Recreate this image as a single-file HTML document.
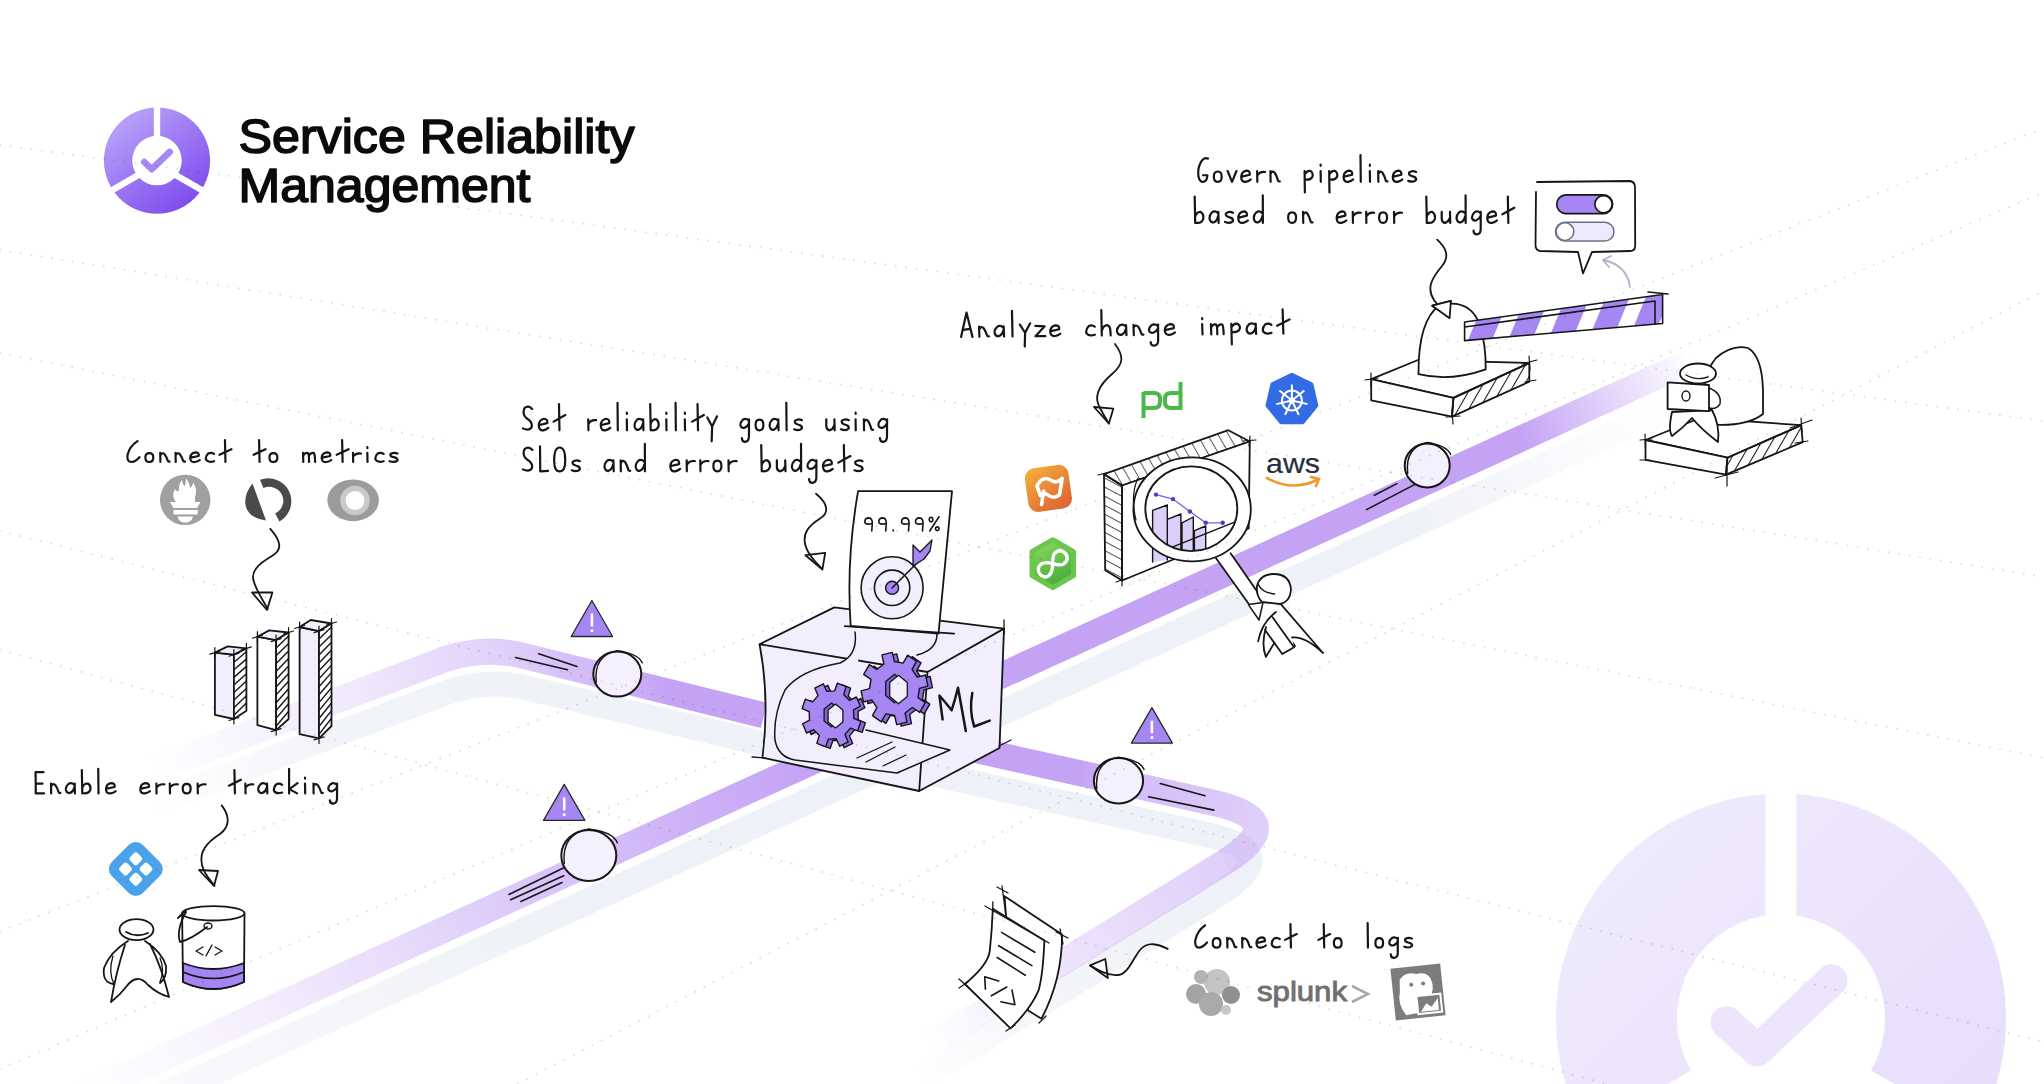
<!DOCTYPE html>
<html><head><meta charset="utf-8"><style>
html,body{margin:0;padding:0;background:#fff;width:2044px;height:1084px;overflow:hidden}
svg{display:block}
</style></head><body>
<svg width="2044" height="1084" viewBox="0 0 2044 1084">
<defs>
<linearGradient id="logoG" x1="0.15" y1="0.05" x2="0.85" y2="0.95">
  <stop offset="0" stop-color="#bba6f8"/><stop offset="1" stop-color="#7c47ee"/>
</linearGradient>
<linearGradient id="bigG" x1="0" y1="0" x2="1" y2="1">
  <stop offset="0" stop-color="#f1ecfd"/><stop offset="1" stop-color="#e5dbfa"/>
</linearGradient>
<linearGradient id="mainG" gradientUnits="userSpaceOnUse" x1="80" y1="1095" x2="1700" y2="357">
  <stop offset="0" stop-color="#c4a3f5" stop-opacity="0"/>
  <stop offset="0.08" stop-color="#c4a3f5" stop-opacity="0.12"/>
  <stop offset="0.2" stop-color="#c4a3f5" stop-opacity="0.4"/>
  <stop offset="0.32" stop-color="#c4a3f5" stop-opacity="0.72"/>
  <stop offset="0.45" stop-color="#c4a3f5" stop-opacity="1"/>
  <stop offset="0.89" stop-color="#c4a3f5" stop-opacity="1"/>
  <stop offset="0.945" stop-color="#c4a3f5" stop-opacity="0.45"/>
  <stop offset="0.995" stop-color="#c4a3f5" stop-opacity="0"/>
</linearGradient>
<linearGradient id="mainSG" gradientUnits="userSpaceOnUse" x1="80" y1="1095" x2="1700" y2="357">
  <stop offset="0" stop-color="#eef1f7" stop-opacity="0.3"/>
  <stop offset="0.3" stop-color="#eef1f7" stop-opacity="1"/>
  <stop offset="0.8" stop-color="#eef1f7" stop-opacity="1"/>
  <stop offset="0.97" stop-color="#eef1f7" stop-opacity="0"/>
</linearGradient>
<linearGradient id="up1G" gradientUnits="userSpaceOnUse" x1="150" y1="771" x2="764" y2="700">
  <stop offset="0" stop-color="#c4a3f5" stop-opacity="0"/>
  <stop offset="0.35" stop-color="#c4a3f5" stop-opacity="0.25"/>
  <stop offset="0.62" stop-color="#c4a3f5" stop-opacity="0.55"/>
  <stop offset="0.85" stop-color="#c4a3f5" stop-opacity="1"/>
  <stop offset="1" stop-color="#c4a3f5" stop-opacity="1"/>
</linearGradient>
<linearGradient id="up1SG" gradientUnits="userSpaceOnUse" x1="150" y1="771" x2="764" y2="700">
  <stop offset="0" stop-color="#eef1f7" stop-opacity="0"/>
  <stop offset="0.3" stop-color="#eef1f7" stop-opacity="0.8"/>
  <stop offset="1" stop-color="#eef1f7" stop-opacity="1"/>
</linearGradient>
<linearGradient id="up2AG" gradientUnits="userSpaceOnUse" x1="1080" y1="770" x2="1270" y2="815">
  <stop offset="0" stop-color="#c4a3f5" stop-opacity="1"/>
  <stop offset="0.3" stop-color="#c4a3f5" stop-opacity="0.72"/>
  <stop offset="1" stop-color="#c4a3f5" stop-opacity="0.52"/>
</linearGradient>
<linearGradient id="up2BG" gradientUnits="userSpaceOnUse" x1="1224.4" y1="862.4" x2="930" y2="1044">
  <stop offset="0" stop-color="#c4a3f5" stop-opacity="0.52"/>
  <stop offset="0.55" stop-color="#c4a3f5" stop-opacity="0.3"/>
  <stop offset="0.85" stop-color="#c4a3f5" stop-opacity="0.1"/>
  <stop offset="1" stop-color="#c4a3f5" stop-opacity="0"/>
</linearGradient>
<linearGradient id="up2SG" gradientUnits="userSpaceOnUse" x1="1218" y1="894" x2="924" y2="1076">
  <stop offset="0" stop-color="#eef1f7" stop-opacity="1"/>
  <stop offset="0.5" stop-color="#eef1f7" stop-opacity="0.7"/>
  <stop offset="1" stop-color="#eef1f7" stop-opacity="0"/>
</linearGradient>
<linearGradient id="flagG" x1="0" y1="0" x2="0.6" y2="1">
  <stop offset="0" stop-color="#f4b23a"/><stop offset="1" stop-color="#e06a35"/>
</linearGradient>
<linearGradient id="infG" x1="0" y1="0" x2="0.4" y2="1">
  <stop offset="0" stop-color="#8ddd5f"/><stop offset="1" stop-color="#4bad3e"/>
</linearGradient>
<pattern id="hatchS" patternUnits="userSpaceOnUse" width="9" height="9" patternTransform="rotate(30)">
  <line x1="0" y1="0" x2="0" y2="9" stroke="#161616" stroke-width="2.1"/>
</pattern>
<pattern id="hatchL" patternUnits="userSpaceOnUse" width="8" height="8" patternTransform="rotate(-62)">
  <line x1="0" y1="0" x2="0" y2="8" stroke="#161616" stroke-width="1.5"/>
</pattern>
<pattern id="hatch" patternUnits="userSpaceOnUse" width="9" height="9" patternTransform="rotate(-30)">
  <line x1="0" y1="0" x2="0" y2="9" stroke="#161616" stroke-width="1.4"/>
</pattern>
</defs>
<rect width="2044" height="1084" fill="#fff"/>
<mask id="mBig"><rect x="0" y="0" width="2044" height="1084" fill="white"/><circle cx="1781" cy="1018.5" r="104" fill="black"/><line x1="1781" y1="1036.4" x2="1781.0" y2="743.9" stroke="black" stroke-width="31"/><line x1="1781" y1="1036.4" x2="2034.3" y2="1182.6" stroke="black" stroke-width="31"/><line x1="1781" y1="1036.4" x2="1527.7" y2="1182.6" stroke="black" stroke-width="31"/></mask><circle cx="1781" cy="1018.5" r="225" fill="url(#bigG)" mask="url(#mBig)"/><polyline points="1726.5,1022.3 1757.3,1050.3 1831.6,980.3" fill="none" stroke="#ece5fc" stroke-width="32" stroke-linecap="round" stroke-linejoin="round"/>
<path d="M 80 1133 L 1707 391" stroke="url(#mainSG)" stroke-width="26" fill="none"/>
<path d="M 157 802 L 437 696 Q 484 677 527 688 L 760 743" stroke="url(#up1SG)" stroke-width="25" fill="none" stroke-linecap="round"/>
<g transform="translate(-6,32)"><path d="M 930 739.9 L 1214.4 803 Q 1292.5 820.4 1224.4 862.4" stroke="#eef1f7" stroke-width="25" fill="none"/><path d="M 1224.4 862.4 L 930 1044" stroke="url(#up2SG)" stroke-width="25" fill="none"/></g>
<path d="M 75 1098 L 1700 357" stroke="url(#mainG)" stroke-width="26" fill="none"/>
<path d="M 150 771 L 430 665 Q 477 644 524 656 L 764 715.5" stroke="url(#up1G)" stroke-width="26" fill="none"/>
<path d="M 950 744.3 L 1214.4 803 Q 1292.5 820.4 1224.4 862.4" stroke="url(#up2AG)" stroke-width="26" fill="none"/><path d="M 1224.4 862.4 L 930 1044" stroke="url(#up2BG)" stroke-width="26" fill="none"/>
<mask id="mSmall"><rect x="0" y="0" width="2044" height="1084" fill="white"/><circle cx="157" cy="160.6" r="24.75" fill="black"/><line x1="157" y1="164.3" x2="157.0" y2="95.3" stroke="black" stroke-width="6.4"/><line x1="157" y1="164.3" x2="216.8" y2="198.8" stroke="black" stroke-width="6.4"/><line x1="157" y1="164.3" x2="97.2" y2="198.8" stroke="black" stroke-width="6.4"/></mask><circle cx="157" cy="160.6" r="53.1" fill="url(#logoG)" mask="url(#mSmall)"/><polyline points="144.3,162 151.7,169.2 169.7,152" fill="none" stroke="#a687f4" stroke-width="6.6" stroke-linecap="round" stroke-linejoin="round"/>
<text x="238.5" y="153" font-family="Liberation Sans" font-size="47.5" fill="#0b0b0b" stroke="#0b0b0b" stroke-width="1.6" stroke-linejoin="round" textLength="396" lengthAdjust="spacingAndGlyphs">Service Reliability</text>
<text x="238.5" y="202" font-family="Liberation Sans" font-size="47.5" fill="#0b0b0b" stroke="#0b0b0b" stroke-width="1.6" stroke-linejoin="round" textLength="292" lengthAdjust="spacingAndGlyphs">Management</text>
<g fill="none" stroke="#161616" stroke-width="2.2" stroke-linecap="round" stroke-linejoin="round"><path vector-effect="non-scaling-stroke" d="M 11 -22.7692 Q 3 -17.1923 1 -7.875 Q 0 0 5 0 Q 9 -0.4375 13 -5.25 M 23 -9.625 Q 19 -9.625 19 -4.8125 Q 19 0 23 0 Q 27 0 27 -4.8125 Q 27 -9.625 23 -9.625 M 34 -10.0625 L 34.2 0 M 34.2 -7.4375 Q 36 -11.0577 38.5 -8.3125 Q 40.5 -5.25 41.5 -1.75 Q 42 0 43.5 -0.4375 M 49.5 -10.0625 L 49.7 0 M 49.7 -7.4375 Q 51.5 -11.0577 54 -8.3125 Q 56 -5.25 57 -1.75 Q 57.5 0 59 -0.4375 M 65 -4.8125 L 73 -6.5625 Q 73.5 -10.5 69.5 -10.5 Q 64.5 -9.625 64.3 -4.375 Q 64.5 0.5 69 0 Q 72 -0.4375 74 -2.1875 M 88.5 -8.75 Q 85.5 -11.0577 82.5 -9.1875 Q 79.5 -6.125 80.3 -2.625 Q 82.5 1 88.5 -0.875 M 99.5 -23.8846 L 100 0 M 94 -7.875 L 106 -13.8462 M 134 -23.8846 L 134.5 0 M 128.5 -7.875 L 140.5 -13.8462 M 148.5 -9.625 Q 144.5 -9.625 144.5 -4.8125 Q 144.5 0 148.5 0 Q 152.5 0 152.5 -4.8125 Q 152.5 -9.625 148.5 -9.625 M 178.5 -10.0625 L 178.7 0 M 178.7 -7 Q 180.5 -10.5 183.5 -9.625 Q 184.5 -7.875 184.5 -4.375 L 184.5 0 M 184.5 -7 Q 186.5 -10.5 189.5 -9.625 Q 190.5 -7.875 190.5 -4.375 L 190.7 0 M 198 -4.8125 L 206 -6.5625 Q 206.5 -10.5 202.5 -10.5 Q 197.5 -9.625 197.3 -4.375 Q 197.5 0.5 202 0 Q 205 -0.4375 207 -2.1875 M 218 -23.8846 L 218.5 0 M 212.5 -7.875 L 224.5 -13.8462 M 229 -10.0625 L 229.2 0 M 229.2 -6.125 Q 232 -10.0625 237 -9.1875 M 243.5 -10.0625 L 243.7 0 M 243.5 -16.0769 L 243.6 -14.9615 M 260 -8.75 Q 257 -11.0577 254 -9.1875 Q 251 -6.125 251.8 -2.625 Q 254 1 260 -0.875 M 274 -9.1875 Q 270.5 -11.0577 267 -8.75 Q 266 -6.125 270 -5.25 Q 274.5 -4.375 274 -1.75 Q 271.5 1 266 -0.875" transform="translate(126.6,462.0) scale(0.9886,0.9200)"/><path vector-effect="non-scaling-stroke" d="M 9 -21.6538 L 1 -21.6538 L 1.2 0 L 9.5 0 M 1 -10.0625 L 8 -10.0625 M 16.5 -10.0625 L 16.7 0 M 16.7 -7.4375 Q 18.5 -11.0577 21 -8.3125 Q 23 -5.25 24 -1.75 Q 24.5 0 26 -0.4375 M 40 -8.75 Q 37 -11.6154 34 -9.625 Q 31 -7 31.5 -3.5 Q 32.5 0 35.5 -0.4375 Q 39 -1.75 40 -6.125 M 40.3 -10.0625 L 40.6 0 M 47.5 -23.8846 L 48 0 M 47.8 -5.25 Q 49.5 -10.5 53.5 -10.0625 Q 57 -7.875 56 -3.5 Q 54.5 0 50.5 0 Q 48.5 0 48 -0.875 M 64 -25 L 64.3 0 M 72.5 -4.8125 L 80.5 -6.5625 Q 81 -10.5 77 -10.5 Q 72 -9.625 71.8 -4.375 Q 72 0.5 76.5 0 Q 79.5 -0.4375 81.5 -2.1875 M 107 -4.8125 L 115 -6.5625 Q 115.5 -10.5 111.5 -10.5 Q 106.5 -9.625 106.3 -4.375 Q 106.5 0.5 111 0 Q 114 -0.4375 116 -2.1875 M 122.5 -10.0625 L 122.7 0 M 122.7 -6.125 Q 125.5 -10.0625 130.5 -9.1875 M 136 -10.0625 L 136.2 0 M 136.2 -6.125 Q 139 -10.0625 144 -9.1875 M 153 -9.625 Q 149 -9.625 149 -4.8125 Q 149 0 153 0 Q 157 0 157 -4.8125 Q 157 -9.625 153 -9.625 M 164 -10.0625 L 164.2 0 M 164.2 -6.125 Q 167 -10.0625 172 -9.1875 M 201 -23.8846 L 201.5 0 M 195.5 -7.875 L 207.5 -13.8462 M 212 -10.0625 L 212.2 0 M 212.2 -6.125 Q 215 -10.0625 220 -9.1875 M 233.5 -8.75 Q 230.5 -11.6154 227.5 -9.625 Q 224.5 -7 225 -3.5 Q 226 0 229 -0.4375 Q 232.5 -1.75 233.5 -6.125 M 233.8 -10.0625 L 234.1 0 M 249 -8.75 Q 246 -11.0577 243 -9.1875 Q 240 -6.125 240.8 -2.625 Q 243 1 249 -0.875 M 256 -25 L 256 0 M 264.5 -10.5 L 256.3 -4.375 L 264 0 M 272 -10.0625 L 272.2 0 M 272 -16.0769 L 272.1 -14.9615 M 280.5 -10.0625 L 280.7 0 M 280.7 -7.4375 Q 282.5 -11.0577 285 -8.3125 Q 287 -5.25 288 -1.75 Q 288.5 0 290 -0.4375 M 304 -8.75 Q 301 -11.6154 298 -9.625 Q 295 -7 295.5 -4.375 Q 296.5 -1.75 299.5 -2.1875 Q 303 -3.5 304 -6.125 M 304.3 -10.0625 L 304.2 6 Q 304 10 300.5 10.5 Q 297 10.5 297 7" transform="translate(34.6,793.4) scale(0.9941,0.9800)"/><path vector-effect="non-scaling-stroke" d="M 10 -19.4231 Q 6 -23.3269 2 -19.9808 Q -0.5 -13.8462 5 -10.5 Q 10.5 -7.4375 9.5 -3.0625 Q 7 1 0.5 -1.75 M 17.5 -4.8125 L 25.5 -6.5625 Q 26 -10.5 22 -10.5 Q 17 -9.625 16.8 -4.375 Q 17 0.5 21.5 0 Q 24.5 -0.4375 26.5 -2.1875 M 37.5 -23.8846 L 38 0 M 32 -7.875 L 44 -13.8462 M 67.5 -10.0625 L 67.7 0 M 67.7 -6.125 Q 70.5 -10.0625 75.5 -9.1875 M 81 -4.8125 L 89 -6.5625 Q 89.5 -10.5 85.5 -10.5 Q 80.5 -9.625 80.3 -4.375 Q 80.5 0.5 85 0 Q 88 -0.4375 90 -2.1875 M 97.5 -25 L 97.8 0 M 107 -10.0625 L 107.2 0 M 107 -16.0769 L 107.1 -14.9615 M 123.5 -8.75 Q 120.5 -11.6154 117.5 -9.625 Q 114.5 -7 115 -3.5 Q 116 0 119 -0.4375 Q 122.5 -1.75 123.5 -6.125 M 123.8 -10.0625 L 124.1 0 M 131 -23.8846 L 131.5 0 M 131.3 -5.25 Q 133 -10.5 137 -10.0625 Q 140.5 -7.875 139.5 -3.5 Q 138 0 134 0 Q 132 0 131.5 -0.875 M 147.5 -10.0625 L 147.7 0 M 147.5 -16.0769 L 147.6 -14.9615 M 157 -25 L 157.3 0 M 166.5 -10.0625 L 166.7 0 M 166.5 -16.0769 L 166.6 -14.9615 M 179.5 -23.8846 L 180 0 M 174 -7.875 L 186 -13.8462 M 189.5 -11.6154 L 194.5 -3.5 M 199.5 -12.7308 L 194.5 -3.5 L 194 10 M 232 -8.75 Q 229 -11.6154 226 -9.625 Q 223 -7 223.5 -4.375 Q 224.5 -1.75 227.5 -2.1875 Q 231 -3.5 232 -6.125 M 232.3 -10.0625 L 232.2 6 Q 232 10 228.5 10.5 Q 225 10.5 225 7 M 243 -9.625 Q 239 -9.625 239 -4.8125 Q 239 0 243 0 Q 247 0 247 -4.8125 Q 247 -9.625 243 -9.625 M 262 -8.75 Q 259 -11.6154 256 -9.625 Q 253 -7 253.5 -3.5 Q 254.5 0 257.5 -0.4375 Q 261 -1.75 262 -6.125 M 262.3 -10.0625 L 262.6 0 M 270.5 -25 L 270.8 0 M 286.5 -9.1875 Q 283 -11.0577 279.5 -8.75 Q 278.5 -6.125 282.5 -5.25 Q 287 -4.375 286.5 -1.75 Q 284 1 278.5 -0.875 M 311.5 -10.0625 L 311.5 -3.5 Q 312 0 315 0 Q 318.5 -0.875 319.5 -4.375 M 319.8 -10.0625 L 320.1 0 M 334.5 -9.1875 Q 331 -11.0577 327.5 -8.75 Q 326.5 -6.125 330.5 -5.25 Q 335 -4.375 334.5 -1.75 Q 332 1 326.5 -0.875 M 341.5 -10.0625 L 341.7 0 M 341.5 -16.0769 L 341.6 -14.9615 M 350 -10.0625 L 350.2 0 M 350.2 -7.4375 Q 352 -11.0577 354.5 -8.3125 Q 356.5 -5.25 357.5 -1.75 Q 358 0 359.5 -0.4375 M 373.5 -8.75 Q 370.5 -11.6154 367.5 -9.625 Q 364.5 -7 365 -4.375 Q 366 -1.75 369 -2.1875 Q 372.5 -3.5 373.5 -6.125 M 373.8 -10.0625 L 373.7 6 Q 373.5 10 370 10.5 Q 366.5 10.5 366.5 7" transform="translate(522.4,430.3) scale(0.9756,1.1000)"/><path vector-effect="non-scaling-stroke" d="M 10 -19.4231 Q 6 -23.3269 2 -19.9808 Q -0.5 -13.8462 5 -10.5 Q 10.5 -7.4375 9.5 -3.0625 Q 7 1 0.5 -1.75 M 17.5 -22.7692 L 17.7 0 L 25.5 -0.4375 M 37 -21.6538 Q 31.5 -21.6538 31.5 -9.625 Q 31.5 0 37 0 Q 42.5 0 42.5 -9.625 Q 42.5 -21.6538 37 -21.6538 M 57 -9.1875 Q 53.5 -11.0577 50 -8.75 Q 49 -6.125 53 -5.25 Q 57.5 -4.375 57 -1.75 Q 54.5 1 49 -0.875 M 90 -8.75 Q 87 -11.6154 84 -9.625 Q 81 -7 81.5 -3.5 Q 82.5 0 85.5 -0.4375 Q 89 -1.75 90 -6.125 M 90.3 -10.0625 L 90.6 0 M 97.5 -10.0625 L 97.7 0 M 97.7 -7.4375 Q 99.5 -11.0577 102 -8.3125 Q 104 -5.25 105 -1.75 Q 105.5 0 107 -0.4375 M 121 -8.75 Q 118 -11.6154 115 -9.625 Q 112 -7 112.5 -3.5 Q 113.5 0 116.5 -0.4375 Q 120 -1.75 121 -6.125 M 121.5 -25 L 121.6 0 M 147.5 -4.8125 L 155.5 -6.5625 Q 156 -10.5 152 -10.5 Q 147 -9.625 146.8 -4.375 Q 147 0.5 151.5 0 Q 154.5 -0.4375 156.5 -2.1875 M 163 -10.0625 L 163.2 0 M 163.2 -6.125 Q 166 -10.0625 171 -9.1875 M 176.5 -10.0625 L 176.7 0 M 176.7 -6.125 Q 179.5 -10.0625 184.5 -9.1875 M 193.5 -9.625 Q 189.5 -9.625 189.5 -4.8125 Q 189.5 0 193.5 0 Q 197.5 0 197.5 -4.8125 Q 197.5 -9.625 193.5 -9.625 M 204.5 -10.0625 L 204.7 0 M 204.7 -6.125 Q 207.5 -10.0625 212.5 -9.1875 M 237 -23.8846 L 237.5 0 M 237.3 -5.25 Q 239 -10.5 243 -10.0625 Q 246.5 -7.875 245.5 -3.5 Q 244 0 240 0 Q 238 0 237.5 -0.875 M 252.5 -10.0625 L 252.5 -3.5 Q 253 0 256 0 Q 259.5 -0.875 260.5 -4.375 M 260.8 -10.0625 L 261.1 0 M 276 -8.75 Q 273 -11.6154 270 -9.625 Q 267 -7 267.5 -3.5 Q 268.5 0 271.5 -0.4375 Q 275 -1.75 276 -6.125 M 276.5 -25 L 276.6 0 M 291.5 -8.75 Q 288.5 -11.6154 285.5 -9.625 Q 282.5 -7 283 -4.375 Q 284 -1.75 287 -2.1875 Q 290.5 -3.5 291.5 -6.125 M 291.8 -10.0625 L 291.7 6 Q 291.5 10 288 10.5 Q 284.5 10.5 284.5 7 M 299 -4.8125 L 307 -6.5625 Q 307.5 -10.5 303.5 -10.5 Q 298.5 -9.625 298.3 -4.375 Q 298.5 0.5 303 0 Q 306 -0.4375 308 -2.1875 M 319 -23.8846 L 319.5 0 M 313.5 -7.875 L 325.5 -13.8462 M 337.5 -9.1875 Q 334 -11.0577 330.5 -8.75 Q 329.5 -6.125 333.5 -5.25 Q 338 -4.375 337.5 -1.75 Q 335 1 329.5 -0.875" transform="translate(522.4,471.3) scale(1.0077,1.1000)"/><path vector-effect="non-scaling-stroke" d="M 0 0 L 5.5 -23.8846 L 11 0 M 2 -7 L 9 -7.875 M 17.5 -10.0625 L 17.7 0 M 17.7 -7.4375 Q 19.5 -11.0577 22 -8.3125 Q 24 -5.25 25 -1.75 Q 25.5 0 27 -0.4375 M 41 -8.75 Q 38 -11.6154 35 -9.625 Q 32 -7 32.5 -3.5 Q 33.5 0 36.5 -0.4375 Q 40 -1.75 41 -6.125 M 41.3 -10.0625 L 41.6 0 M 49.5 -25 L 49.8 0 M 57 -11.6154 L 62 -3.5 M 67 -12.7308 L 62 -3.5 L 61.5 10 M 72 -10.0625 L 81 -9.625 L 72 0 L 81.5 0 M 87 -4.8125 L 95 -6.5625 Q 95.5 -10.5 91.5 -10.5 Q 86.5 -9.625 86.3 -4.375 Q 86.5 0.5 91 0 Q 94 -0.4375 96 -2.1875 M 129.5 -8.75 Q 126.5 -11.0577 123.5 -9.1875 Q 120.5 -6.125 121.3 -2.625 Q 123.5 1 129.5 -0.875 M 136 -25 L 136.2 0 M 136.2 -4.375 Q 138 -10.5 142 -10.0625 Q 144.5 -8.75 144.5 -5.25 L 144.8 0 M 159.5 -8.75 Q 156.5 -11.6154 153.5 -9.625 Q 150.5 -7 151 -3.5 Q 152 0 155 -0.4375 Q 158.5 -1.75 159.5 -6.125 M 159.8 -10.0625 L 160.1 0 M 167 -10.0625 L 167.2 0 M 167.2 -7.4375 Q 169 -11.0577 171.5 -8.3125 Q 173.5 -5.25 174.5 -1.75 Q 175 0 176.5 -0.4375 M 190.5 -8.75 Q 187.5 -11.6154 184.5 -9.625 Q 181.5 -7 182 -4.375 Q 183 -1.75 186 -2.1875 Q 189.5 -3.5 190.5 -6.125 M 190.8 -10.0625 L 190.7 6 Q 190.5 10 187 10.5 Q 183.5 10.5 183.5 7 M 198 -4.8125 L 206 -6.5625 Q 206.5 -10.5 202.5 -10.5 Q 197.5 -9.625 197.3 -4.375 Q 197.5 0.5 202 0 Q 205 -0.4375 207 -2.1875 M 233.5 -10.0625 L 233.7 0 M 233.5 -16.0769 L 233.6 -14.9615 M 242 -10.0625 L 242.2 0 M 242.2 -7 Q 244 -10.5 247 -9.625 Q 248 -7.875 248 -4.375 L 248 0 M 248 -7 Q 250 -10.5 253 -9.625 Q 254 -7.875 254 -4.375 L 254.2 0 M 261.7 -10.0625 L 262 10 M 261.8 -7 Q 264.5 -11.0577 268 -10.0625 Q 271 -7.875 269.5 -4.375 Q 267.5 -1.3125 262 -2.1875 M 285 -8.75 Q 282 -11.6154 279 -9.625 Q 276 -7 276.5 -3.5 Q 277.5 0 280.5 -0.4375 Q 284 -1.75 285 -6.125 M 285.3 -10.0625 L 285.6 0 M 300.5 -8.75 Q 297.5 -11.0577 294.5 -9.1875 Q 291.5 -6.125 292.3 -2.625 Q 294.5 1 300.5 -0.875 M 311.5 -23.8846 L 312 0 M 306 -7.875 L 318 -13.8462" transform="translate(961.1,337.0) rotate(-0.6) scale(1.0330,1.0200)"/><path vector-effect="non-scaling-stroke" d="M 11 -21.6538 Q 5 -23.8846 1.5 -12.7308 Q 0 -1.75 5 0 Q 10 0.5 10.5 -6.125 L 6 -6.125 M 21 -9.625 Q 17 -9.625 17 -4.8125 Q 17 0 21 0 Q 25 0 25 -4.8125 Q 25 -9.625 21 -9.625 M 31 -10.0625 L 35.5 0 L 40 -10.0625 M 45.5 -4.8125 L 53.5 -6.5625 Q 54 -10.5 50 -10.5 Q 45 -9.625 44.8 -4.375 Q 45 0.5 49.5 0 Q 52.5 -0.4375 54.5 -2.1875 M 61 -10.0625 L 61.2 0 M 61.2 -6.125 Q 64 -10.0625 69 -9.1875 M 74.5 -10.0625 L 74.7 0 M 74.7 -7.4375 Q 76.5 -11.0577 79 -8.3125 Q 81 -5.25 82 -1.75 Q 82.5 0 84 -0.4375 M 109.2 -10.0625 L 109.5 10 M 109.3 -7 Q 112 -11.0577 115.5 -10.0625 Q 118.5 -7.875 117 -4.375 Q 115 -1.3125 109.5 -2.1875 M 125.5 -10.0625 L 125.7 0 M 125.5 -16.0769 L 125.6 -14.9615 M 134.2 -10.0625 L 134.5 10 M 134.3 -7 Q 137 -11.0577 140.5 -10.0625 Q 143.5 -7.875 142 -4.375 Q 140 -1.3125 134.5 -2.1875 M 149.5 -4.8125 L 157.5 -6.5625 Q 158 -10.5 154 -10.5 Q 149 -9.625 148.8 -4.375 Q 149 0.5 153.5 0 Q 156.5 -0.4375 158.5 -2.1875 M 166 -25 L 166.3 0 M 175.5 -10.0625 L 175.7 0 M 175.5 -16.0769 L 175.6 -14.9615 M 184 -10.0625 L 184.2 0 M 184.2 -7.4375 Q 186 -11.0577 188.5 -8.3125 Q 190.5 -5.25 191.5 -1.75 Q 192 0 193.5 -0.4375 M 199.5 -4.8125 L 207.5 -6.5625 Q 208 -10.5 204 -10.5 Q 199 -9.625 198.8 -4.375 Q 199 0.5 203.5 0 Q 206.5 -0.4375 208.5 -2.1875 M 222.5 -9.1875 Q 219 -11.0577 215.5 -8.75 Q 214.5 -6.125 218.5 -5.25 Q 223 -4.375 222.5 -1.75 Q 220 1 214.5 -0.875" transform="translate(1197.1,181.8) scale(0.9842,1.0700)"/><path vector-effect="non-scaling-stroke" d="M 1 -23.8846 L 1.5 0 M 1.3 -5.25 Q 3 -10.5 7 -10.0625 Q 10.5 -7.875 9.5 -3.5 Q 8 0 4 0 Q 2 0 1.5 -0.875 M 24.5 -8.75 Q 21.5 -11.6154 18.5 -9.625 Q 15.5 -7 16 -3.5 Q 17 0 20 -0.4375 Q 23.5 -1.75 24.5 -6.125 M 24.8 -10.0625 L 25.1 0 M 39.5 -9.1875 Q 36 -11.0577 32.5 -8.75 Q 31.5 -6.125 35.5 -5.25 Q 40 -4.375 39.5 -1.75 Q 37 1 31.5 -0.875 M 45.5 -4.8125 L 53.5 -6.5625 Q 54 -10.5 50 -10.5 Q 45 -9.625 44.8 -4.375 Q 45 0.5 49.5 0 Q 52.5 -0.4375 54.5 -2.1875 M 69 -8.75 Q 66 -11.6154 63 -9.625 Q 60 -7 60.5 -3.5 Q 61.5 0 64.5 -0.4375 Q 68 -1.75 69 -6.125 M 69.5 -25 L 69.6 0 M 99 -9.625 Q 95 -9.625 95 -4.8125 Q 95 0 99 0 Q 103 0 103 -4.8125 Q 103 -9.625 99 -9.625 M 110 -10.0625 L 110.2 0 M 110.2 -7.4375 Q 112 -11.0577 114.5 -8.3125 Q 116.5 -5.25 117.5 -1.75 Q 118 0 119.5 -0.4375 M 144.5 -4.8125 L 152.5 -6.5625 Q 153 -10.5 149 -10.5 Q 144 -9.625 143.8 -4.375 Q 144 0.5 148.5 0 Q 151.5 -0.4375 153.5 -2.1875 M 160 -10.0625 L 160.2 0 M 160.2 -6.125 Q 163 -10.0625 168 -9.1875 M 173.5 -10.0625 L 173.7 0 M 173.7 -6.125 Q 176.5 -10.0625 181.5 -9.1875 M 190.5 -9.625 Q 186.5 -9.625 186.5 -4.8125 Q 186.5 0 190.5 0 Q 194.5 0 194.5 -4.8125 Q 194.5 -9.625 190.5 -9.625 M 201.5 -10.0625 L 201.7 0 M 201.7 -6.125 Q 204.5 -10.0625 209.5 -9.1875 M 234 -23.8846 L 234.5 0 M 234.3 -5.25 Q 236 -10.5 240 -10.0625 Q 243.5 -7.875 242.5 -3.5 Q 241 0 237 0 Q 235 0 234.5 -0.875 M 249.5 -10.0625 L 249.5 -3.5 Q 250 0 253 0 Q 256.5 -0.875 257.5 -4.375 M 257.8 -10.0625 L 258.1 0 M 273 -8.75 Q 270 -11.6154 267 -9.625 Q 264 -7 264.5 -3.5 Q 265.5 0 268.5 -0.4375 Q 272 -1.75 273 -6.125 M 273.5 -25 L 273.6 0 M 288.5 -8.75 Q 285.5 -11.6154 282.5 -9.625 Q 279.5 -7 280 -4.375 Q 281 -1.75 284 -2.1875 Q 287.5 -3.5 288.5 -6.125 M 288.8 -10.0625 L 288.7 6 Q 288.5 10 285 10.5 Q 281.5 10.5 281.5 7 M 296 -4.8125 L 304 -6.5625 Q 304.5 -10.5 300.5 -10.5 Q 295.5 -9.625 295.3 -4.375 Q 295.5 0.5 300 0 Q 303 -0.4375 305 -2.1875 M 316 -23.8846 L 316.5 0 M 310.5 -7.875 L 322.5 -13.8462" transform="translate(1193.7,222.9) scale(0.9941,1.1000)"/><path vector-effect="non-scaling-stroke" d="M 11 -22.7692 Q 3 -17.1923 1 -7.875 Q 0 0 5 0 Q 9 -0.4375 13 -5.25 M 23 -9.625 Q 19 -9.625 19 -4.8125 Q 19 0 23 0 Q 27 0 27 -4.8125 Q 27 -9.625 23 -9.625 M 34 -10.0625 L 34.2 0 M 34.2 -7.4375 Q 36 -11.0577 38.5 -8.3125 Q 40.5 -5.25 41.5 -1.75 Q 42 0 43.5 -0.4375 M 49.5 -10.0625 L 49.7 0 M 49.7 -7.4375 Q 51.5 -11.0577 54 -8.3125 Q 56 -5.25 57 -1.75 Q 57.5 0 59 -0.4375 M 65 -4.8125 L 73 -6.5625 Q 73.5 -10.5 69.5 -10.5 Q 64.5 -9.625 64.3 -4.375 Q 64.5 0.5 69 0 Q 72 -0.4375 74 -2.1875 M 88.5 -8.75 Q 85.5 -11.0577 82.5 -9.1875 Q 79.5 -6.125 80.3 -2.625 Q 82.5 1 88.5 -0.875 M 99.5 -23.8846 L 100 0 M 94 -7.875 L 106 -13.8462 M 134 -23.8846 L 134.5 0 M 128.5 -7.875 L 140.5 -13.8462 M 148.5 -9.625 Q 144.5 -9.625 144.5 -4.8125 Q 144.5 0 148.5 0 Q 152.5 0 152.5 -4.8125 Q 152.5 -9.625 148.5 -9.625 M 179.5 -25 L 179.8 0 M 191.5 -9.625 Q 187.5 -9.625 187.5 -4.8125 Q 187.5 0 191.5 0 Q 195.5 0 195.5 -4.8125 Q 195.5 -9.625 191.5 -9.625 M 210.5 -8.75 Q 207.5 -11.6154 204.5 -9.625 Q 201.5 -7 202 -4.375 Q 203 -1.75 206 -2.1875 Q 209.5 -3.5 210.5 -6.125 M 210.8 -10.0625 L 210.7 6 Q 210.5 10 207 10.5 Q 203.5 10.5 203.5 7 M 225.5 -9.1875 Q 222 -11.0577 218.5 -8.75 Q 217.5 -6.125 221.5 -5.25 Q 226 -4.375 225.5 -1.75 Q 223 1 217.5 -0.875" transform="translate(1194.4,947.6) scale(0.9652,0.9800)"/></g>
<polygon points="252,592.5 272.4,592.5 267,610" fill="#fff" stroke="#161616" stroke-width="1.8" stroke-linecap="round" stroke-linejoin="round"/><path d="M270.3,528.8 C 282,542 282,550 272,556 C 258,564 250,572 254,582 C 257,592 263,600 267.5,608.6" fill="none" stroke="#161616" stroke-width="1.8" stroke-linecap="round" stroke-linejoin="round"/>
<polygon points="199,870 218,871 214,886" fill="#fff" stroke="#161616" stroke-width="1.8" stroke-linecap="round" stroke-linejoin="round"/><path d="M221.7,805.4 C 229,815 231,826 220,834 C 206,843 199,852 202,865 C 204,874 210,880 214.5,885.7" fill="none" stroke="#161616" stroke-width="1.8" stroke-linecap="round" stroke-linejoin="round"/>
<polygon points="805.4,555.2 825.2,552.9 822.4,569.5" fill="#fff" stroke="#161616" stroke-width="1.8" stroke-linecap="round" stroke-linejoin="round"/><path d="M816,493.8 C 830,505 828,514 819.7,518.7 C 810,525 803,532 804.9,542.7 C 806,552 815,562 822,568.6" fill="none" stroke="#161616" stroke-width="1.8" stroke-linecap="round" stroke-linejoin="round"/>
<polygon points="1094,407 1113.3,408.7 1108.9,423.5" fill="#fff" stroke="#161616" stroke-width="1.8" stroke-linecap="round" stroke-linejoin="round"/><path d="M1115,344 C 1124,356 1124,364 1112,374 C 1098,386 1094,398 1100,408 C 1103,414 1106,419 1108.9,423.5" fill="none" stroke="#161616" stroke-width="1.8" stroke-linecap="round" stroke-linejoin="round"/>
<polygon points="1432.2,305.7 1450.9,300.8 1449.6,318.2" fill="#fff" stroke="#161616" stroke-width="1.8" stroke-linecap="round" stroke-linejoin="round"/><path d="M1437.2,239.7 C 1446,248 1450,256 1442,266 C 1432,278 1426,288 1434,300 C 1439,307 1444,312 1449.6,318.2" fill="none" stroke="#161616" stroke-width="1.8" stroke-linecap="round" stroke-linejoin="round"/>
<polygon points="1090.1,965.4 1105.3,959 1107.9,978.1" fill="#fff" stroke="#161616" stroke-width="1.8" stroke-linecap="round" stroke-linejoin="round"/><path d="M1167.7,948.9 C 1158,944 1148,941 1140,950 C 1132,960 1128,974 1118,975 C 1108,976 1098,970 1090.1,965.4" fill="none" stroke="#161616" stroke-width="1.8" stroke-linecap="round" stroke-linejoin="round"/>
<path d="M1630,287 C 1628,272 1618,263 1603,260 M1603,260 L1611,256 M1603,260 L1609,267" fill="none" stroke="#aeb3c9" stroke-width="1.8" stroke-linecap="round"/>
<circle cx="185.2" cy="499.9" r="25.2" fill="#a0a0a0"/>
<path d="M176,502 Q171,497 175,489 Q177,492 179,491 Q178,485 182,480 Q183,486 185,486 Q186,482 186,478 Q190,484 190,488 Q193,486 193,482 Q198,490 195,497 L195,502 Z" fill="#fff"/>
<path d="M170,502 L200.5,502 L197,508 L173.5,508 Z M173.5,510 L197.6,510 L197.6,514.6 L173.5,514.6 Z M177.6,516.4 L192.9,516.4 Q192,522.5 185.2,522.5 Q178.5,522.5 177.6,516.4 Z" fill="#fff"/>
<path d="M260.0,479.8 A23,23 0 0 1 279.4,521.4 L275.2,513.5 A14,14 0 0 0 263.4,488.1 Z" fill="#4a4a4a"/>
<path d="M252.5,483.5 Q244,494 245.5,505 Q248,518 266,520.5 Z" fill="#4a4a4a"/>
<ellipse cx="353.1" cy="500.3" rx="25.8" ry="20.9" fill="#9b9b9b"/><circle cx="355" cy="500.5" r="14.7" fill="#c9c9c9"/><circle cx="355" cy="500.5" r="9.4" fill="#fff"/>
<polygon points="214.9,652.6 233.9,654.7 233.9,719 214.9,714.8" fill="#f2eefd" stroke="#161616" stroke-width="1.8" stroke-linecap="round" stroke-linejoin="round"/><polygon points="214.9,652.6 233.9,654.7 246.4,648.4 227.7,646.4" fill="#f2eefd" stroke="#161616" stroke-width="1.8" stroke-linecap="round" stroke-linejoin="round"/><polygon points="233.9,654.7 246.4,648.4 246.4,710.7 233.9,719" fill="#fff" stroke="#161616" stroke-width="1.8" stroke-linecap="round" stroke-linejoin="round"/><line x1="233.9" y1="662.3" x2="246.4" y2="651.7" stroke="#161616" stroke-width="1.4"/><line x1="233.9" y1="669.8" x2="246.4" y2="659.1" stroke="#161616" stroke-width="1.4"/><line x1="233.9" y1="677.4" x2="246.4" y2="666.4" stroke="#161616" stroke-width="1.4"/><line x1="233.9" y1="685.0" x2="246.4" y2="673.7" stroke="#161616" stroke-width="1.4"/><line x1="233.9" y1="692.5" x2="246.4" y2="681.0" stroke="#161616" stroke-width="1.4"/><line x1="233.9" y1="700.1" x2="246.4" y2="688.4" stroke="#161616" stroke-width="1.4"/><line x1="233.9" y1="707.7" x2="246.4" y2="695.7" stroke="#161616" stroke-width="1.4"/><line x1="233.9" y1="715.2" x2="246.4" y2="703.0" stroke="#161616" stroke-width="1.4"/><path d="M209.9,654.1 L219.9,651.1 M214.9,647.6 L214.9,657.6" stroke="#161616" stroke-width="1.2" stroke-linecap="round" stroke-linejoin="round"/><path d="M228.9,720.5 L238.9,717.5 M233.9,714 L233.9,724" stroke="#161616" stroke-width="1.2" stroke-linecap="round" stroke-linejoin="round"/><path d="M241.4,649.9 L251.4,646.9 M246.4,643.4 L246.4,653.4" stroke="#161616" stroke-width="1.2" stroke-linecap="round" stroke-linejoin="round"/><path d="M228.9,656.2 L238.9,653.2 M233.9,649.7 L233.9,659.7" stroke="#161616" stroke-width="1.2" stroke-linecap="round" stroke-linejoin="round"/>
<polygon points="257.4,636.7 276.1,640.1 276.1,730.1 257.4,725.2" fill="#fff" stroke="#161616" stroke-width="1.8" stroke-linecap="round" stroke-linejoin="round"/><polygon points="257.4,636.7 276.1,640.1 288.6,632.5 269.2,630.4" fill="#f2eefd" stroke="#161616" stroke-width="1.8" stroke-linecap="round" stroke-linejoin="round"/><polygon points="276.1,640.1 288.6,632.5 288.6,719 276.1,730.1" fill="#fff" stroke="#161616" stroke-width="1.8" stroke-linecap="round" stroke-linejoin="round"/><line x1="276.1" y1="647.9" x2="288.6" y2="636.0" stroke="#161616" stroke-width="1.4"/><line x1="276.1" y1="655.8" x2="288.6" y2="643.5" stroke="#161616" stroke-width="1.4"/><line x1="276.1" y1="663.6" x2="288.6" y2="651.1" stroke="#161616" stroke-width="1.4"/><line x1="276.1" y1="671.4" x2="288.6" y2="658.6" stroke="#161616" stroke-width="1.4"/><line x1="276.1" y1="679.2" x2="288.6" y2="666.1" stroke="#161616" stroke-width="1.4"/><line x1="276.1" y1="687.1" x2="288.6" y2="673.6" stroke="#161616" stroke-width="1.4"/><line x1="276.1" y1="694.9" x2="288.6" y2="681.2" stroke="#161616" stroke-width="1.4"/><line x1="276.1" y1="702.7" x2="288.6" y2="688.7" stroke="#161616" stroke-width="1.4"/><line x1="276.1" y1="710.5" x2="288.6" y2="696.2" stroke="#161616" stroke-width="1.4"/><line x1="276.1" y1="718.4" x2="288.6" y2="703.7" stroke="#161616" stroke-width="1.4"/><line x1="276.1" y1="726.2" x2="288.6" y2="711.2" stroke="#161616" stroke-width="1.4"/><path d="M252.39999999999998,638.2 L262.4,635.2 M257.4,631.7 L257.4,641.7" stroke="#161616" stroke-width="1.2" stroke-linecap="round" stroke-linejoin="round"/><path d="M271.1,731.6 L281.1,728.6 M276.1,725.1 L276.1,735.1" stroke="#161616" stroke-width="1.2" stroke-linecap="round" stroke-linejoin="round"/><path d="M283.6,634.0 L293.6,631.0 M288.6,627.5 L288.6,637.5" stroke="#161616" stroke-width="1.2" stroke-linecap="round" stroke-linejoin="round"/><path d="M271.1,641.6 L281.1,638.6 M276.1,635.1 L276.1,645.1" stroke="#161616" stroke-width="1.2" stroke-linecap="round" stroke-linejoin="round"/>
<polygon points="299.6,627 319,631.1 319,738.4 299.6,734.2" fill="#f2eefd" stroke="#161616" stroke-width="1.8" stroke-linecap="round" stroke-linejoin="round"/><polygon points="299.6,627 319,631.1 331.5,623.5 310.7,620" fill="#f2eefd" stroke="#161616" stroke-width="1.8" stroke-linecap="round" stroke-linejoin="round"/><polygon points="319,631.1 331.5,623.5 331.5,726 319,738.4" fill="#fff" stroke="#161616" stroke-width="1.8" stroke-linecap="round" stroke-linejoin="round"/><line x1="319" y1="639.0" x2="331.5" y2="627.1" stroke="#161616" stroke-width="1.4"/><line x1="319" y1="647.0" x2="331.5" y2="634.7" stroke="#161616" stroke-width="1.4"/><line x1="319" y1="654.9" x2="331.5" y2="642.3" stroke="#161616" stroke-width="1.4"/><line x1="319" y1="662.9" x2="331.5" y2="649.9" stroke="#161616" stroke-width="1.4"/><line x1="319" y1="670.8" x2="331.5" y2="657.5" stroke="#161616" stroke-width="1.4"/><line x1="319" y1="678.8" x2="331.5" y2="665.1" stroke="#161616" stroke-width="1.4"/><line x1="319" y1="686.7" x2="331.5" y2="672.6" stroke="#161616" stroke-width="1.4"/><line x1="319" y1="694.7" x2="331.5" y2="680.2" stroke="#161616" stroke-width="1.4"/><line x1="319" y1="702.6" x2="331.5" y2="687.8" stroke="#161616" stroke-width="1.4"/><line x1="319" y1="710.6" x2="331.5" y2="695.4" stroke="#161616" stroke-width="1.4"/><line x1="319" y1="718.5" x2="331.5" y2="703.0" stroke="#161616" stroke-width="1.4"/><line x1="319" y1="726.5" x2="331.5" y2="710.6" stroke="#161616" stroke-width="1.4"/><line x1="319" y1="734.4" x2="331.5" y2="718.2" stroke="#161616" stroke-width="1.4"/><path d="M294.6,628.5 L304.6,625.5 M299.6,622 L299.6,632" stroke="#161616" stroke-width="1.2" stroke-linecap="round" stroke-linejoin="round"/><path d="M314,739.9 L324,736.9 M319,733.4 L319,743.4" stroke="#161616" stroke-width="1.2" stroke-linecap="round" stroke-linejoin="round"/><path d="M326.5,625.0 L336.5,622.0 M331.5,618.5 L331.5,628.5" stroke="#161616" stroke-width="1.2" stroke-linecap="round" stroke-linejoin="round"/><path d="M314,632.6 L324,629.6 M319,626.1 L319,636.1" stroke="#161616" stroke-width="1.2" stroke-linecap="round" stroke-linejoin="round"/>
<g transform="translate(135.8,869) rotate(45)"><rect x="-22" y="-22" width="44" height="44" rx="10" fill="#4aa3ea"/><rect x="-12.5" y="-12.5" width="10.5" height="10.5" rx="2.5" fill="#fff"/><rect x="2" y="-12.5" width="10.5" height="10.5" rx="2.5" fill="#fff"/><rect x="-12.5" y="2" width="10.5" height="10.5" rx="2.5" fill="#fff"/><rect x="2" y="2" width="10.5" height="10.5" rx="2.5" fill="#fff"/></g>
<path d="M128,941 Q110,952 104,968 Q102,982 113,984 M145,941 Q162,952 166,966 Q167,978 160,983 M125,945 Q116,972 111,1002 Q120,995 126,987 Q137,972 148,985 Q158,994 169,997 Q162,968 150,944" fill="#fff" stroke="#161616" stroke-width="1.8" stroke-linecap="round" stroke-linejoin="round"/>
<ellipse cx="136.5" cy="929.6" rx="17" ry="10.5" fill="#fff" stroke="#161616" stroke-width="1.8" stroke-linecap="round" stroke-linejoin="round"/><path d="M126,932 Q136,938 148,933" fill="none" stroke="#161616" stroke-width="1.8" stroke-linecap="round" stroke-linejoin="round"/>
<path d="M113,956 Q108,972 114,984 M160,958 Q165,970 160,982" fill="none" stroke="#161616" stroke-width="1.3" stroke-linecap="round" stroke-linejoin="round"/>
<path d="M182.1,913.3 L183,982 Q213,996 244,982 L244.5,913.3" fill="#fff" stroke="#161616" stroke-width="1.8" stroke-linecap="round" stroke-linejoin="round"/>
<path d="M183,963 Q213,975 244,963 L244,982 Q213,996 183,982 Z" fill="#a584f3" stroke="#161616" stroke-width="1.8" stroke-linecap="round" stroke-linejoin="round"/>
<path d="M183,972 Q213,985 244,972" fill="none" stroke="#161616" stroke-width="1.6" stroke-linecap="round" stroke-linejoin="round"/>
<ellipse cx="213.3" cy="913.3" rx="31.2" ry="7.2" fill="#fff" stroke="#161616" stroke-width="1.8" stroke-linecap="round" stroke-linejoin="round"/>
<path d="M178,918 L186,910 M186,912 Q176,930 180,942 Q190,940 207,927" fill="none" stroke="#161616" stroke-width="1.8" stroke-linecap="round" stroke-linejoin="round"/><ellipse cx="208" cy="926" rx="4" ry="3" fill="none" stroke="#161616" stroke-width="1.4" stroke-linecap="round" stroke-linejoin="round"/>
<path d="M203,947 L196,951 L203,955 M206,956 L212,945 M215,947 L222,951 L215,955" fill="none" stroke="#161616" stroke-width="1.4" stroke-linecap="round" stroke-linejoin="round"/>
<path d="M591.9,600.5 L612.6,636.5 L571.1999999999999,636.5 Z" fill="#a686f3" stroke="#2a2a2a" stroke-width="1.3" stroke-linejoin="round"/><line x1="591.9" y1="613.5" x2="591.9" y2="626.5" stroke="#fff" stroke-width="2.6"/><rect x="590.6" y="629.5" width="2.6" height="2.6" fill="#fff"/>
<path d="M564.2,784.4 L584.9000000000001,820.4 L543.5,820.4 Z" fill="#a686f3" stroke="#2a2a2a" stroke-width="1.3" stroke-linejoin="round"/><line x1="564.2" y1="797.4" x2="564.2" y2="810.4" stroke="#fff" stroke-width="2.6"/><rect x="562.9000000000001" y="813.4" width="2.6" height="2.6" fill="#fff"/>
<path d="M1151.9,707.7 L1172.4,743.2 L1131.4,743.2 Z" fill="#a686f3" stroke="#2a2a2a" stroke-width="1.3" stroke-linejoin="round"/><line x1="1151.9" y1="720.7" x2="1151.9" y2="733.2" stroke="#fff" stroke-width="2.6"/><rect x="1150.6000000000001" y="736.2" width="2.6" height="2.6" fill="#fff"/>
<line x1="515.5" y1="657.5" x2="567.5" y2="669.7" stroke="#161616" stroke-width="1.6" stroke-linecap="round" stroke-linejoin="round"/><line x1="538.7" y1="653.7" x2="577" y2="666.4" stroke="#161616" stroke-width="1.6" stroke-linecap="round" stroke-linejoin="round"/><ellipse cx="617.3" cy="674.1" rx="24" ry="22.5" fill="#f4f0fd" stroke="#161616" stroke-width="2" stroke-linecap="round" stroke-linejoin="round"/><path d="M596.3,682.1 Q593.3,655.6 617.3,650.6 Q638.3,653.6 642.3,662.85" fill="none" stroke="#161616" stroke-width="1.4" stroke-linecap="round" stroke-linejoin="round"/>
<line x1="508.9" y1="894.5" x2="575.7" y2="862" stroke="#161616" stroke-width="1.6" stroke-linecap="round" stroke-linejoin="round"/><line x1="510.6" y1="899.7" x2="563.7" y2="875.7" stroke="#161616" stroke-width="1.6" stroke-linecap="round" stroke-linejoin="round"/><line x1="520.9" y1="901.4" x2="562" y2="882.5" stroke="#161616" stroke-width="1.6" stroke-linecap="round" stroke-linejoin="round"/><ellipse cx="588.8" cy="855.5" rx="27.5" ry="25.5" fill="#f4f0fd" stroke="#161616" stroke-width="2" stroke-linecap="round" stroke-linejoin="round"/><path d="M564.3,863.5 Q561.3,834.0 588.8,829.0 Q613.3,832.0 617.3,842.75" fill="none" stroke="#161616" stroke-width="1.4" stroke-linecap="round" stroke-linejoin="round"/>
<line x1="1160.2" y1="783.6" x2="1205" y2="795.7" stroke="#161616" stroke-width="1.6" stroke-linecap="round" stroke-linejoin="round"/><line x1="1148.6" y1="796.8" x2="1213.9" y2="810.1" stroke="#161616" stroke-width="1.6" stroke-linecap="round" stroke-linejoin="round"/><ellipse cx="1118.5" cy="780.8" rx="24.6" ry="22.7" fill="#f4f0fd" stroke="#161616" stroke-width="2" stroke-linecap="round" stroke-linejoin="round"/><path d="M1096.9,788.8 Q1093.9,762.0999999999999 1118.5,757.0999999999999 Q1140.1,760.0999999999999 1144.1,769.4499999999999" fill="none" stroke="#161616" stroke-width="1.4" stroke-linecap="round" stroke-linejoin="round"/>
<line x1="1374.4" y1="495.3" x2="1396.9" y2="483.6" stroke="#161616" stroke-width="1.6" stroke-linecap="round" stroke-linejoin="round"/><line x1="1366.5" y1="509.6" x2="1414.5" y2="484.6" stroke="#161616" stroke-width="1.6" stroke-linecap="round" stroke-linejoin="round"/><ellipse cx="1427.2" cy="465.5" rx="22.5" ry="22" fill="#f4f0fd" stroke="#161616" stroke-width="2" stroke-linecap="round" stroke-linejoin="round"/><path d="M1407.7,473.5 Q1404.7,447.5 1427.2,442.5 Q1446.7,445.5 1450.7,454.5" fill="none" stroke="#161616" stroke-width="1.4" stroke-linecap="round" stroke-linejoin="round"/>
<path d="M759.6,644.3 L834.3,607.4 L1004,628.6 L999.5,748 L919.2,791 L762.4,757.7 Q770,700 759.6,644.3 Z" fill="#f2eefd" stroke="#161616" stroke-width="1.8" stroke-linecap="round" stroke-linejoin="round"/>
<path d="M759.6,644.3 L927.5,672 L1004,628.6 M927.5,672 L919.2,791" fill="none" stroke="#161616" stroke-width="1.8" stroke-linecap="round" stroke-linejoin="round"/>
<path d="M1004,620 L1004,634 M999,746 L1011,740 M752,757 L765,758" fill="none" stroke="#161616" stroke-width="1.3" stroke-linecap="round" stroke-linejoin="round"/>
<path d="M858.1,491.2 L952,491.2 L938.5,633.6 L850.7,626 Q846,560 858.1,491.2 Z" fill="#fff" stroke="#161616" stroke-width="1.8" stroke-linecap="round" stroke-linejoin="round"/>
<circle cx="892.1" cy="587.8" r="31" fill="#f2eefd" stroke="#161616" stroke-width="1.6" stroke-linecap="round" stroke-linejoin="round"/><circle cx="892.1" cy="587.8" r="17.7" fill="#f2eefd" stroke="#161616" stroke-width="1.6" stroke-linecap="round" stroke-linejoin="round"/><circle cx="892.1" cy="587.8" r="6.5" fill="#a686f3" stroke="#161616" stroke-width="1.4" stroke-linecap="round" stroke-linejoin="round"/>
<path d="M892,588 L921,559" stroke="#161616" stroke-width="1.6" stroke-linecap="round" stroke-linejoin="round" fill="none"/>
<path d="M913,566 L913,545 L920,552 L932,540 L930,551 L924,559 Z" fill="#a686f3" stroke="#161616" stroke-width="1.3" stroke-linecap="round" stroke-linejoin="round"/>
<g fill="none" stroke="#161616" stroke-width="1.6" stroke-linecap="round"><path vector-effect="non-scaling-stroke" d="M 8 -8.75 Q 8 -13.8462 4 -13.8462 Q 0.5 -13.2885 0.8 -9.1875 Q 1.5 -6.125 8 -7.875 L 7.5 0 M 21.5 -8.75 Q 21.5 -13.8462 17.5 -13.8462 Q 14 -13.2885 14.3 -9.1875 Q 15 -6.125 21.5 -7.875 L 21 0 M 28 -1.05 L 28.5 -0.175 M 43.5 -8.75 Q 43.5 -13.8462 39.5 -13.8462 Q 36 -13.2885 36.3 -9.1875 Q 37 -6.125 43.5 -7.875 L 43 0 M 57 -8.75 Q 57 -13.8462 53 -13.8462 Q 49.5 -13.2885 49.8 -9.1875 Q 50.5 -6.125 57 -7.875 L 56.5 0 M 72.5 -14.9615 L 63.5 0 M 65 -14.4038 Q 63 -14.4038 63 -11.6154 Q 63.3 -9.625 65 -9.625 Q 66.5 -10.0625 66.5 -11.6154 Q 66.5 -14.4038 65 -14.4038 M 71 -4.375 Q 69 -4.375 69 -2.1875 Q 69.3 -0.4375 71 -0.4375 Q 72.5 -0.875 72.5 -2.1875 Q 72.5 -4.375 71 -4.375" transform="translate(864.0,531.0) scale(1.0350,0.9500)"/></g>
<path d="M844.8,626.2 L954.1,633.6" fill="none" stroke="#161616" stroke-width="1.8" stroke-linecap="round" stroke-linejoin="round"/>
<path d="M855,632 Q858,655 840,663 Q800,670 785,690 Q773,715 775,740 Q778,757 795,760 L897,773 L950,750 L866,730" fill="#f2eefd" stroke="#161616" stroke-width="1.5" stroke-linecap="round" stroke-linejoin="round"/>
<path d="M937,634 Q937,650 917,655" fill="none" stroke="#161616" stroke-width="1.5" stroke-linecap="round" stroke-linejoin="round"/>
<path d="M857,758 L892,742 M866,762 L895,747 M883,766 L906,755" fill="none" stroke="#161616" stroke-width="1.3" stroke-linecap="round" stroke-linejoin="round"/>
<polygon points="858.3,719.9 865.4,722.8 862.2,732.3 854.9,729.6 849.5,735.9 852.7,743.4 844.2,747.7 840.8,740.2 832.9,740.6 830.2,748.3 821.4,744.8 823.8,736.9 818.0,731.1 811.1,734.5 807.1,725.3 814.0,721.7 813.7,713.1 806.6,710.2 809.8,700.7 817.1,703.4 822.5,697.1 819.3,689.6 827.8,685.3 831.2,692.8 839.1,692.4 841.8,684.7 850.6,688.2 848.2,696.1 854.0,701.9 860.9,698.5 864.9,707.7 858.0,711.3" fill="#8a6be0" stroke="#161616" stroke-width="1.4" stroke-linecap="round" stroke-linejoin="round"/><polygon points="853.8,718.4 860.9,721.3 857.7,730.8 850.4,728.1 845.0,734.4 848.2,741.9 839.7,746.2 836.3,738.7 828.4,739.1 825.7,746.8 816.9,743.3 819.3,735.4 813.5,729.6 806.6,733.0 802.6,723.8 809.5,720.2 809.2,711.6 802.1,708.7 805.3,699.2 812.6,701.9 818.0,695.6 814.8,688.1 823.3,683.8 826.7,691.3 834.6,690.9 837.3,683.2 846.1,686.7 843.7,694.6 849.5,700.4 856.4,697.0 860.4,706.2 853.5,709.8" fill="#a686f3" stroke="#161616" stroke-width="1.4" stroke-linecap="round" stroke-linejoin="round"/><polygon points="838.9,720.9 831.5,726.9 824.1,720.9 824.1,709.1 831.5,703.1 838.9,709.1" fill="#7f62d8" stroke="#161616" stroke-width="1.3" stroke-linecap="round" stroke-linejoin="round"/><polygon points="842.9,721.9 835.5,727.9 828.1,721.9 828.1,710.1 835.5,704.1 842.9,710.1" fill="#f2eefd" stroke="#161616" stroke-width="1.3" stroke-linecap="round" stroke-linejoin="round"/>
<polygon points="922.5,699.2 929.8,704.2 924.2,713.8 916.8,709.0 909.6,714.5 911.5,723.6 901.2,726.1 899.1,717.0 890.4,715.4 885.8,723.3 877.0,717.2 881.4,709.2 876.3,701.4 867.9,703.5 865.6,692.4 874.0,690.1 875.5,680.8 868.2,675.8 873.8,666.2 881.2,671.0 888.4,665.5 886.5,656.4 896.8,653.9 898.9,663.0 907.6,664.6 912.2,656.7 921.0,662.8 916.6,670.8 921.7,678.6 930.1,676.5 932.4,687.6 924.0,689.9" fill="#8a6be0" stroke="#161616" stroke-width="1.4" stroke-linecap="round" stroke-linejoin="round"/><polygon points="918.0,697.7 925.3,702.7 919.7,712.3 912.3,707.5 905.1,713.0 907.0,722.1 896.7,724.6 894.6,715.5 885.9,713.9 881.3,721.8 872.5,715.7 876.9,707.7 871.8,699.9 863.4,702.0 861.1,690.9 869.5,688.6 871.0,679.3 863.7,674.3 869.3,664.7 876.7,669.5 883.9,664.0 882.0,654.9 892.3,652.4 894.4,661.5 903.1,663.1 907.7,655.2 916.5,661.3 912.1,669.3 917.2,677.1 925.6,675.0 927.9,686.1 919.5,688.4" fill="#a686f3" stroke="#161616" stroke-width="1.4" stroke-linecap="round" stroke-linejoin="round"/><polygon points="903.3,695.6 894.5,702.8 885.7,695.6 885.7,681.4 894.5,674.2 903.3,681.4" fill="#7f62d8" stroke="#161616" stroke-width="1.3" stroke-linecap="round" stroke-linejoin="round"/><polygon points="907.3,696.6 898.5,703.8 889.7,696.6 889.7,682.4 898.5,675.2 907.3,682.4" fill="#f2eefd" stroke="#161616" stroke-width="1.3" stroke-linecap="round" stroke-linejoin="round"/>
<path d="M942.6,719.4 L939.4,695.5 Q946,703 951.6,710.3 Q955,700 958,687.7 L965.8,731 M972.3,692.9 Q969,710 974.2,726.5 L989.7,720.6" fill="none" stroke="#161616" stroke-width="2.5" stroke-linecap="round" stroke-linejoin="round"/>
<g fill="none" stroke="#4cb84a" stroke-width="4" stroke-linejoin="round"><path d="M1143.5,392 L1143.5,418"/><path d="M1143.5,393 L1154,393 Q1160,393 1160,399 L1160,402 Q1160,408 1154,408 L1143.5,408"/><path d="M1180.5,382 L1180.5,410 M1180.5,393 L1171,393 Q1165,393 1165,399 L1165,402 Q1165,408 1171,408 L1180.5,408"/></g>
<polygon points="1291.9,374.8 1311.4,384.2 1316.3,405.4 1302.7,422.3 1281.1,422.3 1267.5,405.4 1272.4,384.2" fill="#326ce5" stroke="#326ce5" stroke-width="4" stroke-linejoin="round"/>
<g stroke="#fff" stroke-width="2" fill="none"><circle cx="1291.9" cy="400.5" r="10"/><line x1="1291.9" y1="400.5" x2="1291.9" y2="384.5"/><line x1="1291.9" y1="400.5" x2="1304.4" y2="390.5"/><line x1="1291.9" y1="400.5" x2="1307.5" y2="404.1"/><line x1="1291.9" y1="400.5" x2="1298.8" y2="414.9"/><line x1="1291.9" y1="400.5" x2="1285.0" y2="414.9"/><line x1="1291.9" y1="400.5" x2="1276.3" y2="404.1"/><line x1="1291.9" y1="400.5" x2="1279.4" y2="390.5"/></g><circle cx="1291.9" cy="400.5" r="3" fill="#fff"/>
<text x="1266" y="473" font-family="Liberation Sans" font-size="28" fill="#252f3e" stroke="#252f3e" stroke-width="0.2" textLength="54" lengthAdjust="spacingAndGlyphs">aws</text>
<path d="M1267,478 Q1292,492 1317,480 M1311,477 L1319,479 L1316,486" fill="none" stroke="#f19a2a" stroke-width="2.6" stroke-linecap="round"/>
<g transform="translate(1048.4,488.4) rotate(-8)"><rect x="-22" y="-22" width="44" height="44" rx="10" fill="url(#flagG)"/><path d="M-9,15 L-5,2 M-11,-4 Q-4,-14 3,-8 Q9,-3 15,-8 Q12,2 10,8 Q4,12 -2,6 Q-6,3 -9,6 Z" fill="none" stroke="#fff" stroke-width="3.6" stroke-linejoin="round" stroke-linecap="round"/></g>
<polygon points="1052.8,539.7 1073.6,551.7 1073.6,575.7 1052.8,587.7 1032.0,575.7 1032.0,551.7" fill="url(#infG)" stroke="#6cc64e" stroke-width="5" stroke-linejoin="round"/>
<path transform="rotate(-38 1052.8 563.7)" d="M1052.8,563.7 Q1046,554 1039,558 Q1034,563 1038,569 Q1044,574 1052.8,563.7 Q1060,553 1067,558 Q1071,564 1067,569 Q1060,574 1052.8,563.7" fill="none" stroke="#fff" stroke-width="3.4"/>
<path d="M1104,474.2 L1228.3,430.2 L1249.8,441.5 L1122.1,485.5 Z" fill="url(#hatch)" stroke="#161616" stroke-width="1.8" stroke-linecap="round" stroke-linejoin="round"/>
<path d="M1104,474.2 L1122.1,485.5 L1122.1,580.5 L1105.2,570.3 Z" fill="url(#hatchL)" stroke="#161616" stroke-width="1.8" stroke-linecap="round" stroke-linejoin="round"/>
<path d="M1122.1,485.5 L1249.8,441.5 L1248.7,528.5 L1122.1,580.5 Z" fill="#fff" stroke="#161616" stroke-width="1.8" stroke-linecap="round" stroke-linejoin="round"/>
<path d="M1098,475 L1110,472 M1243,441 L1256,440 M1250,436 L1249,446 M1116,582 L1128,578 M1122,575 L1122,586" fill="none" stroke="#161616" stroke-width="1.2" stroke-linecap="round" stroke-linejoin="round"/>
<path d="M1152.6,562 L1152.6,510.4 L1167.3,505 L1167.3,560" fill="#dcd0fa" stroke="#161616" stroke-width="1.4" stroke-linecap="round" stroke-linejoin="round"/>
<clipPath id="lensClip"><ellipse cx="1191.3" cy="508.7" rx="46" ry="42.4"/></clipPath>
<g clip-path="url(#lensClip)"><rect x="1140" y="460" width="110" height="100" fill="#fff"/><path d="M1152.6,600 L1152.6,510.4 L1167.3,505 L1167.3,600 M1167.3,600 L1167.3,519.4 L1180.9,514 L1180.9,600 M1182,600 L1182,522.8 L1193.3,517 L1193.3,600 M1194.4,600 L1194.4,530.7 L1205.7,526 L1205.7,600" fill="#dcd0fa" stroke="#161616" stroke-width="1.4" stroke-linecap="round" stroke-linejoin="round"/><path d="M1150,556 L1240,520" stroke="#161616" stroke-width="1.4" stroke-linecap="round" stroke-linejoin="round" fill="none"/></g>
<polyline points="1156,494.6 1173,499.1 1189.9,511.5 1205.7,522.8 1222.7,522.8" fill="none" stroke="#7b5ee8" stroke-width="1.3"/><circle cx="1156" cy="494.6" r="2.2" fill="#5436d0"/><circle cx="1173" cy="499.1" r="2.2" fill="#5436d0"/><circle cx="1189.9" cy="511.5" r="2.2" fill="#5436d0"/><circle cx="1205.7" cy="522.8" r="2.2" fill="#5436d0"/><circle cx="1222.7" cy="522.8" r="2.2" fill="#5436d0"/>
<path d="M1215.9,557.9 L1283.7,652.8 L1295,646 L1230.6,553.3" fill="#fff" stroke="#161616" stroke-width="1.8" stroke-linecap="round" stroke-linejoin="round"/>
<path fill-rule="evenodd" d="M1133.4,509.3 a58.7,52 0 1,0 117.4,0 a58.7,52 0 1,0 -117.4,0 Z M1145.3,508.7 a46,42.4 0 1,0 92,0 a46,42.4 0 1,0 -92,0 Z" fill="#fff" stroke="#161616" stroke-width="1.8" stroke-linecap="round" stroke-linejoin="round"/>
<path d="M1138,478 Q1130,495 1136,520" fill="none" stroke="#161616" stroke-width="1.2" stroke-linecap="round" stroke-linejoin="round"/>
<path d="M1259,603 L1280.4,603.6 L1323,653 L1292,637.5 L1294,647.2 L1282.3,654 L1274.6,642.4 L1265.9,656.9 L1258.1,641.4 L1259,620 Z" fill="#fff"/>
<path d="M1280.4,603.6 L1323,653 Q1305,636 1292,637.5 M1272.6,617.2 L1294,647.2 L1282.3,654 L1264.9,629.8 M1266,627 Q1261,645 1265.9,656.9 L1274.6,642.4 M1276,612 Q1262,622 1258.1,641.4" fill="none" stroke="#161616" stroke-width="1.8" stroke-linecap="round" stroke-linejoin="round"/>
<path d="M1273.6,574 Q1290,574 1291,590 Q1290,602 1280,604 L1262,602 Q1256,596 1257,586 Q1260,574 1273.6,574 Z" fill="#fff" stroke="#161616" stroke-width="1.8" stroke-linecap="round" stroke-linejoin="round"/><path d="M1258,584 Q1262,593 1274.6,593.9" fill="none" stroke="#161616" stroke-width="1.5" stroke-linecap="round" stroke-linejoin="round"/>
<path d="M1248.4,604.6 L1263,602.6 L1259,620 Z" fill="#fff" stroke="#161616" stroke-width="1.5" stroke-linecap="round" stroke-linejoin="round"/>
<path d="M1371.2,379.2 L1418,360 L1529.3,363 L1453.4,397.9 Z" fill="#fff" stroke="#161616" stroke-width="1.8" stroke-linecap="round" stroke-linejoin="round"/>
<path d="M1371.2,379.2 L1453.4,397.9 L1452,416.6 L1371.2,400.4 Z" fill="#fff" stroke="#161616" stroke-width="1.8" stroke-linecap="round" stroke-linejoin="round"/>
<path d="M1453.4,397.9 L1529.3,363 L1529.3,381.7 L1452,416.6 Z" fill="url(#hatchS)" stroke="#161616" stroke-width="1.8" stroke-linecap="round" stroke-linejoin="round"/>
<path d="M1365,380 L1378,378 M1371,373 L1371,386 M1446,417 L1460,416 M1452,410 L1453,424 M1522,364 L1537,360 M1529,356 L1530,370 M1525,382 L1536,380" fill="none" stroke="#161616" stroke-width="1.2" stroke-linecap="round" stroke-linejoin="round"/>
<path d="M1418.5,374.2 Q1418,320 1440,305 Q1470,298 1480,325 Q1486,345 1485.7,369.3 Q1450,382 1418.5,374.2 Z" fill="#fff" stroke="#161616" stroke-width="1.8" stroke-linecap="round" stroke-linejoin="round"/>
<clipPath id="armClip"><path d="M1464.6,322 L1662.6,294.5 L1662.6,323.5 L1464.6,340.6 Z"/></clipPath>
<g clip-path="url(#armClip)"><rect x="1460" y="290" width="210" height="60" fill="#fff"/><path d="M1466,345 L1488,292 L1512,292 L1490,345 Z" fill="#a686f3"/><path d="M1506,345 L1528,292 L1552,292 L1530,345 Z" fill="#a686f3"/><path d="M1546,345 L1568,292 L1592,292 L1570,345 Z" fill="#a686f3"/><path d="M1586,345 L1608,292 L1632,292 L1610,345 Z" fill="#a686f3"/><path d="M1626,345 L1648,292 L1672,292 L1650,345 Z" fill="#a686f3"/><path d="M1666,345 L1688,292 L1712,292 L1690,345 Z" fill="#a686f3"/></g>
<path d="M1464.6,322 L1662.6,294.5 L1662.6,323.5 L1464.6,340.6 Z M1464.6,327 L1655,301 L1655,324 M1648,292 L1668,294" fill="none" stroke="#161616" stroke-width="1.6" stroke-linecap="round" stroke-linejoin="round"/>
<polygon points="1432.2,305.7 1450.9,300.8 1449.6,318.2" fill="#fff" stroke="#161616" stroke-width="1.8" stroke-linecap="round" stroke-linejoin="round"/>
<path d="M1537,182 L1630,181 Q1635,182 1635,187 L1635.2,246 Q1635,251 1630,251 L1592,252 L1583,273.4 L1578,252 L1540,251 Q1535.5,250 1535.5,245 L1536,192" fill="#fff" stroke="#161616" stroke-width="1.8" stroke-linecap="round" stroke-linejoin="round"/>
<rect x="1556.7" y="194.9" width="56" height="18.7" rx="9.35" fill="#a686f3" stroke="#161616" stroke-width="1.6"/><circle cx="1603.5" cy="204.2" r="8.6" fill="#fff" stroke="#161616" stroke-width="1.6"/>
<rect x="1555.5" y="222.3" width="58.5" height="18.7" rx="9.35" fill="#efe9fd" stroke="#6e6f8f" stroke-width="1.5"/><circle cx="1565" cy="231.6" r="8.8" fill="#fff" stroke="#6e6f8f" stroke-width="1.5"/>
<path d="M1645.5,440 L1700,418 L1801.2,425.2 L1727.4,457.7 Z" fill="#fff" stroke="#161616" stroke-width="1.8" stroke-linecap="round" stroke-linejoin="round"/>
<path d="M1645.5,440 L1727.4,457.7 L1726,474.6 L1645.5,459.9 Z" fill="#fff" stroke="#161616" stroke-width="1.8" stroke-linecap="round" stroke-linejoin="round"/>
<path d="M1727.4,457.7 L1801.2,425.2 L1802.7,442.2 L1726,474.6 Z" fill="url(#hatchS)" stroke="#161616" stroke-width="1.8" stroke-linecap="round" stroke-linejoin="round"/>
<path d="M1640,440 L1652,439 M1645,434 L1645.5,448 M1640,460 L1650,460 M1715,478 L1738,472 M1727,468 L1727,486 M1790,428 L1812,420 M1801,418 L1802,432 M1795,443 L1808,441" fill="none" stroke="#161616" stroke-width="1.2" stroke-linecap="round" stroke-linejoin="round"/>
<path d="M1704,424 Q1700,376 1716,358 Q1732,344 1748,348 Q1762,356 1763,390 L1763,414 Q1745,428 1704,424 Z" fill="#fff" stroke="#161616" stroke-width="1.8" stroke-linecap="round" stroke-linejoin="round"/>
<path d="M1672,412 Q1668,430 1672,436 Q1683,428 1692,418 Q1702,430 1718,442 Q1720,425 1712,410 Z" fill="#fff" stroke="#161616" stroke-width="1.8" stroke-linecap="round" stroke-linejoin="round"/>
<ellipse cx="1698" cy="373.5" rx="18" ry="10" fill="#fff" stroke="#161616" stroke-width="1.8" stroke-linecap="round" stroke-linejoin="round"/><path d="M1686,375 Q1696,381 1708,377" fill="none" stroke="#161616" stroke-width="1.4" stroke-linecap="round" stroke-linejoin="round"/>
<path d="M1667.6,382.4 L1709,385 L1709,411.2 L1667.6,409 Z" fill="#fff" stroke="#161616" stroke-width="1.8" stroke-linecap="round" stroke-linejoin="round"/><ellipse cx="1686" cy="396" rx="4" ry="5" fill="none" stroke="#161616" stroke-width="1.4" stroke-linecap="round" stroke-linejoin="round"/>
<path d="M1709,388 Q1722,393 1720,404 Q1716,410 1709,408" fill="none" stroke="#161616" stroke-width="1.4" stroke-linecap="round" stroke-linejoin="round"/>
<path d="M1004.6,896.2 L1062.1,934.6 Q1062,980 1041.5,1018.7 L1028.2,1010.6 L1006,916.2 Z" fill="#fff" stroke="#161616" stroke-width="1.8" stroke-linecap="round" stroke-linejoin="round"/>
<path d="M992.8,908.8 L1044.4,940.5 Q1043,975 1038.5,990.7 Q1030,1010 1010.5,1028.3 L964.8,984 Q988,965 989.8,950.8 Q992,930 992.8,908.8 Z" fill="#fff" stroke="#161616" stroke-width="1.8" stroke-linecap="round" stroke-linejoin="round"/>
<path d="M985,906 L1049,943 M992.8,902 L992.8,912 M997,887 L1008,893 M1002,886 L1006,916 M1060,929 L1063,944 M1056,932 L1068,938 M959,979 L969,988 M959,988 L968,982 M1006,1031 L1015,1025 M1039,1023 L1046,1016" fill="none" stroke="#161616" stroke-width="1.3" stroke-linecap="round" stroke-linejoin="round"/>
<path d="M1001.6,932.4 L1034.8,952.3 M998.7,945.7 L1031.9,965.6 M997.2,957.5 L1025.3,975.2" fill="none" stroke="#161616" stroke-width="1.6" stroke-linecap="round" stroke-linejoin="round"/>
<path d="M998.7,981.1 L984.7,976.7 L985.4,989.2 M991.3,995.8 L1006.8,987 M1000.9,1001.7 L1014.9,1004.7 L1012,990" fill="none" stroke="#161616" stroke-width="1.6" stroke-linecap="round" stroke-linejoin="round"/>
<g fill="#9c9c9c"><circle cx="1217" cy="982" r="13" fill="#c4c4c4"/><circle cx="1196" cy="994" r="10" fill="#a3a3a3"/><circle cx="1201" cy="977" r="7" fill="#b3b3b3"/><circle cx="1211" cy="1004" r="12" fill="#a9a9a9"/><circle cx="1231" cy="995" r="9" fill="#8f8f8f"/><circle cx="1226" cy="1010" r="5" fill="#c8c8c8"/></g>
<text x="1257" y="1001" font-family="Liberation Sans" font-size="28" fill="#707070" stroke="#707070" stroke-width="0.9" textLength="90" lengthAdjust="spacingAndGlyphs">splunk</text>
<path d="M1352,986 L1368,994 L1352,1002" fill="none" stroke="#a8a8a8" stroke-width="2.6"/>
<g transform="translate(1418,992) rotate(-6)"><rect x="-25" y="-26" width="50" height="52" fill="#7c7c7c"/><path d="M-17,-14 Q-10,-22 0,-18 Q10,-20 14,-12 Q18,0 10,8 L8,20 L-14,22 Q-22,10 -18,-2 Z" fill="#fff"/><rect x="-2" y="4" width="24" height="18" fill="#7c7c7c" stroke="#fff" stroke-width="2"/><path d="M1,20 L7,12 L12,16 L19,8 L19,20 Z" fill="#fff"/><circle cx="-6" cy="-8" r="2" fill="#7c7c7c"/><circle cx="6" cy="-8" r="2" fill="#7c7c7c"/></g>
<g stroke="#000" stroke-opacity="0.13" stroke-width="2" stroke-dasharray="0.01 10.5" stroke-linecap="round" fill="none"><line x1="0" y1="145" x2="2044" y2="421"/><line x1="0" y1="250" x2="2044" y2="577"/><line x1="0" y1="353" x2="2044" y2="758"/><line x1="0" y1="531" x2="2044" y2="1042"/><line x1="0" y1="650" x2="2044" y2="1202"/><line x1="0" y1="931.5" x2="2044" y2="128"/><line x1="0" y1="1069" x2="2044" y2="192"/><line x1="517.8" y1="1084" x2="2044" y2="290.6"/></g></svg>
</body></html>
